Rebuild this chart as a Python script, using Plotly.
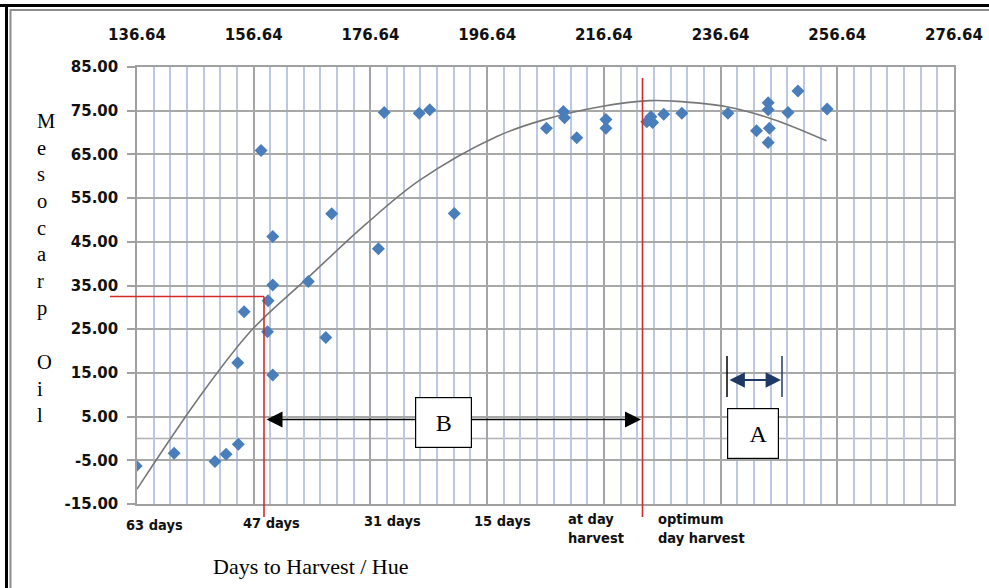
import plotly.graph_objects as go

# ---------------- data ----------------
oil_x = [136.5, 143.0, 150.0, 151.9, 154.0, 153.9, 159.9, 159.0, 155.0, 159.1,
         159.9, 166.0, 169.0, 159.9, 157.9, 170.0, 178.0, 179.0, 185.0, 186.8,
         191.0,
         206.8, 209.7, 209.9, 212.0, 217.0, 217.0, 224.0, 224.7, 225.0,
         226.9, 230.0, 237.9, 242.8, 244.8, 244.8, 245.0, 244.8, 248.2, 249.9,
         254.9]
oil_y = [-6.3, -3.4, -5.3, -3.6, -1.3, 17.3, 14.5, 24.4, 29.0, 31.5,
         35.1, 35.9, 23.1, 46.2, 65.9, 51.4, 43.4, 74.6, 74.4, 75.2,
         51.5,
         71.0, 74.8, 73.4, 68.8, 73.0, 71.0, 72.5, 73.6, 72.3,
         74.2, 74.4, 74.4, 70.4, 76.8, 75.2, 71.0, 67.7, 74.6, 79.5,
         75.4]

trend_x = [136.64, 147.4, 156.3, 165.7, 176.0, 185.1, 198.3, 206.3, 216.0,
           224.5, 228.5, 237.7, 245.7, 254.8]
trend_y = [-11.6, 9.6, 24.8, 36.5, 49.2, 59.1, 69.1, 72.9, 75.9,
           77.3, 77.2, 75.9, 73.0, 68.1]

y_tick_vals = [-15, -5, 5, 15, 25, 35, 45, 55, 65, 75, 85]
y_tick_text = ["-15.00", "-5.00", "5.00", "15.00", "25.00", "35.00",
               "45.00", "55.00", "65.00", "75.00", "85.00"]

day_labels = ["63 days", "47 days", "31 days", "15 days",
              "at day<br>harvest", "optimum<br>day harvest"]

x_range = [136.64, 276.64]
y_range = [-15, 85]
x_major = 20
x_minor = 20 / 7

y_title_top = "M<br>e<br>s<br>o<br>c<br>a<br>r<br>p"
y_title_bottom = "O<br>i<br>l"
x_title = "Days to Harvest / Hue"

# ---------------- layout geometry (pixels) ----------------
W, H = 989, 588
L, R, T, B = 137, 35, 67, 84
PW, PH = W - L - R, H - T - B


def PX(px):
    return (px - L) / PW


def PY(py):
    return (H - B - py) / PH


fig = go.Figure()

fig.add_trace(go.Scatter(
    x=trend_x, y=trend_y, mode="lines",
    line=dict(color="#777777", width=1.6, shape="spline", smoothing=1.0),
    hoverinfo="skip", showlegend=False))

fig.add_trace(go.Scatter(
    x=oil_x, y=oil_y, mode="markers",
    marker=dict(symbol="diamond", size=10, color="#4a7ebb",
                line=dict(width=0)),
    showlegend=False))

tick_font = dict(family="DejaVu Sans", size=15, color="#111111", weight="bold")
label_font = dict(family="DejaVu Sans Condensed", size=14.5, color="#111111",
                  weight="bold")
serif = "Liberation Serif"

shapes = []
# extra horizontal grid line at zero
shapes.append(dict(type="line", xref="x", yref="y", x0=x_range[0], x1=x_range[1],
                   y0=0, y1=0, line=dict(color="#b0b0b0", width=1.5),
                   layer="below"))
# outer frame
shapes.append(dict(type="line", xref="paper", yref="paper", x0=PX(0), x1=PX(989),
                   y0=PY(5.5), y1=PY(5.5), line=dict(color="#000000", width=3)))
shapes.append(dict(type="line", xref="paper", yref="paper", x0=PX(10), x1=PX(989),
                   y0=PY(10), y1=PY(10), line=dict(color="#8c8c8c", width=2)))
shapes.append(dict(type="line", xref="paper", yref="paper", x0=PX(6.5), x1=PX(6.5),
                   y0=PY(4), y1=PY(588), line=dict(color="#000000", width=3)))
shapes.append(dict(type="line", xref="paper", yref="paper", x0=PX(10.5), x1=PX(10.5),
                   y0=PY(9), y1=PY(588), line=dict(color="#8c8c8c", width=2)))
# red guide lines
red = "#d42a2a"
shapes.append(dict(type="line", xref="paper", yref="paper", x0=PX(110), x1=PX(264),
                   y0=PY(296.5), y1=PY(296.5), line=dict(color=red, width=1.6)))
shapes.append(dict(type="line", xref="paper", yref="paper", x0=PX(264), x1=PX(264),
                   y0=PY(296.5), y1=PY(517), line=dict(color=red, width=1.6)))
shapes.append(dict(type="line", xref="paper", yref="paper", x0=PX(642.5), x1=PX(642.5),
                   y0=PY(78), y1=PY(517), line=dict(color=red, width=1.6)))
# A bracket ticks
shapes.append(dict(type="line", xref="paper", yref="paper", x0=PX(727), x1=PX(727),
                   y0=PY(356), y1=PY(397), line=dict(color="#000000", width=1.5)))
shapes.append(dict(type="line", xref="paper", yref="paper", x0=PX(782), x1=PX(782),
                   y0=PY(356), y1=PY(397), line=dict(color="#1f3864", width=1.5)))

annotations = []
# B double arrow
annotations.append(dict(xref="paper", yref="paper", x=PX(641), y=PY(419.5),
                        ax=-(641 - 265), ay=0, text="", showarrow=True,
                        arrowhead=2, startarrowhead=2, arrowside="end+start",
                        arrowsize=2.0, startarrowsize=2.0, arrowwidth=1.6,
                        arrowcolor="#000000", standoff=0, startstandoff=0))
# A double arrow
annotations.append(dict(xref="paper", yref="paper", x=PX(781), y=PY(380),
                        ax=-(781 - 728), ay=0, text="", showarrow=True,
                        arrowhead=2, startarrowhead=2, arrowside="end+start",
                        arrowsize=1.4, startarrowsize=1.4, arrowwidth=2.2,
                        arrowcolor="#1f3864", standoff=0, startstandoff=0))
# B and A boxes (drawn above the arrows)
annotations.append(dict(xref="paper", yref="paper", x=PX(443.75), y=PY(422),
                        xanchor="center", yanchor="middle",
                        width=55, height=48.6, borderpad=0, borderwidth=1.2,
                        bordercolor="#000000", bgcolor="white",
                        text="B", showarrow=False,
                        font=dict(family=serif, size=24, color="#000000")))
annotations.append(dict(xref="paper", yref="paper", x=PX(752.75), y=PY(433.5),
                        xanchor="center", yanchor="middle",
                        width=50, height=48.6, borderpad=0, borderwidth=1.2,
                        bordercolor="#000000", bgcolor="white",
                        text="  A", showarrow=False, align="center",
                        font=dict(family=serif, size=24, color="#000000")))
# y title
annotations.append(dict(xref="paper", yref="paper", x=PX(35), y=PY(215),
                        xanchor="left", yanchor="middle", align="left",
                        text=y_title_top, showarrow=False,
                        font=dict(family=serif, size=20.5, color="#000000")))
annotations.append(dict(xref="paper", yref="paper", x=PX(35), y=PY(388),
                        xanchor="left", yanchor="middle", align="left",
                        text=y_title_bottom, showarrow=False,
                        font=dict(family=serif, size=20.5, color="#000000")))
# x title
annotations.append(dict(xref="paper", yref="paper", x=PX(311), y=PY(566),
                        xanchor="center", yanchor="middle",
                        text=x_title, showarrow=False,
                        font=dict(family=serif, size=22, color="#000000")))
# bottom day labels
label_pos = [(154, 525, "center"), (271, 523, "center"), (392, 521, "center"),
             (502, 521, "center"), (566, 528, "left"), (656, 528, "left")]
for txt, (lx, ly, anc) in zip(day_labels, label_pos):
    annotations.append(dict(xref="paper", yref="paper", x=PX(lx), y=PY(ly),
                            xanchor=anc, yanchor="middle", align="left",
                            text=txt, showarrow=False, font=label_font))

fig.update_layout(
    width=W, height=H,
    margin=dict(l=L, r=R, t=T, b=B, pad=0, autoexpand=False),
    paper_bgcolor="white", plot_bgcolor="white",
    shapes=shapes, annotations=annotations,
    showlegend=False,
    xaxis=dict(range=x_range, side="top", tick0=x_range[0], dtick=x_major,
               tickformat=".2f", tickfont=tick_font, ticks="",
               ticklabelstandoff=19, automargin=False,
               showgrid=True, gridcolor="#a3a3aa", gridwidth=2,
               minor=dict(tick0=x_range[0], dtick=x_minor, showgrid=True,
                          gridcolor="#bcc8e2", gridwidth=1.6),
               showline=True, linecolor="#a0a0a0", linewidth=1.5, mirror=True,
               zeroline=False, fixedrange=True),
    yaxis=dict(range=y_range, tickmode="array", tickvals=y_tick_vals,
               ticktext=y_tick_text, tickfont=tick_font, automargin=False,
               ticks="outside", ticklen=8, tickcolor="#a0a0a0", tickwidth=1.5,
               ticklabelstandoff=6,
               showgrid=True, gridcolor="#a8a8a8", gridwidth=1.6,
               showline=True, linecolor="#a0a0a0", linewidth=1.5, mirror=True,
               zeroline=False, fixedrange=True),
)

fig.write_html("out.html")
